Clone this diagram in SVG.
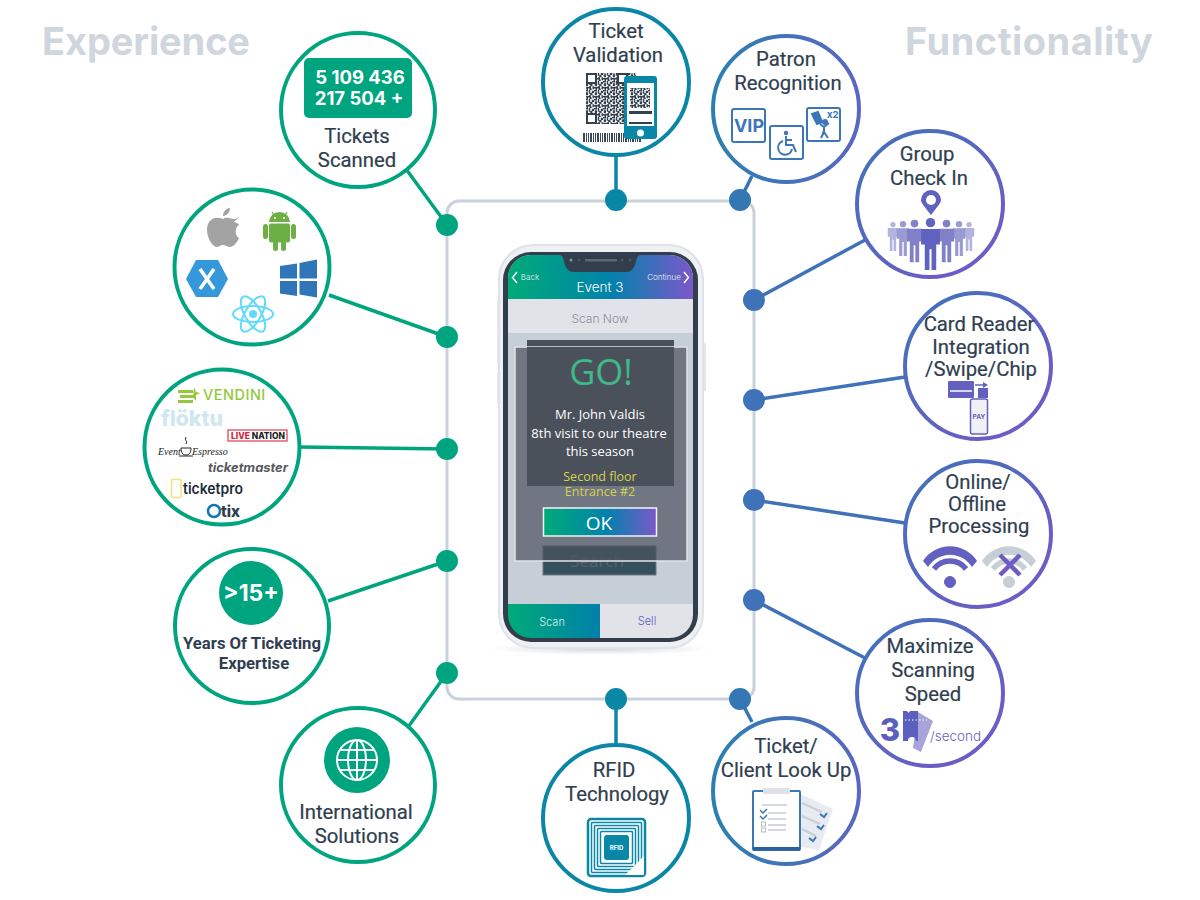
<svg xmlns="http://www.w3.org/2000/svg" width="1200" height="900" viewBox="0 0 1200 900">
<style>
.title{font:700 38px "Inter","Open Sans",sans-serif;fill:#cfd6de;text-anchor:middle}
.lb{font:400 20.300px Roboto,"Noto Sans",sans-serif;fill:#2f3e50;text-anchor:middle;stroke:#2f3e50;stroke-width:.2}
.cw{fill:#fff;stroke-width:4}
.g{stroke:#00a57f}.t{stroke:#0a87a6}.b{stroke:url(#gB)}.p{stroke:url(#gP)}
.con{fill:none;stroke-width:3.5}
.mn{font-family:"Open Sans","Noto Sans",sans-serif;text-anchor:middle}
.ph{font-family:Inter,"Open Sans",sans-serif;text-anchor:middle;font-weight:300}
.ib{fill:#fff;stroke:#3a76b8;stroke-width:2}
</style>
<defs>
<linearGradient id="gB" x1="0" x2="1" y1="0" y2="0"><stop offset="0" stop-color="#2b80b0"/><stop offset="1" stop-color="#5a66c2"/></linearGradient>
<linearGradient id="gP" x1="0" x2="1" y1="0" y2="1"><stop offset="0" stop-color="#3f73b8"/><stop offset="1" stop-color="#7757c8"/></linearGradient>
<linearGradient id="gH" x1="0" x2="1" y1="0" y2="0"><stop offset="0" stop-color="#00ab78"/><stop offset=".55" stop-color="#0082ab"/><stop offset="1" stop-color="#7b58c9"/></linearGradient>
<linearGradient id="gS" x1="0" x2="1" y1="0" y2="0"><stop offset="0" stop-color="#00ab78"/><stop offset="1" stop-color="#0080aa"/></linearGradient>
<radialGradient id="sh"><stop offset="0" stop-color="#d5d9dd"/><stop offset="1" stop-color="#fff"/></radialGradient>
<pattern id="qr" width="12" height="12" patternUnits="userSpaceOnUse" patternTransform="scale(.75)"><rect width="12" height="12" fill="#fff"/><path d="M0 0h4v2H0zM5 0h2v5H5zM9 1h3v3H9zM1 3h3v4H1zM7 4h3v3H7zM0 8h5v2H0zM5 7h3v3H5zM10 7h2v4h-2zM6 10h3v2H6zM2 10h2v2H2z" fill="#33414f"/></pattern>
<pattern id="bc" width="7" height="9" patternUnits="userSpaceOnUse"><path d="M0 0h1v9H0zM2 0h2v9H2zM5 0h1v9H5z" fill="#3a4754"/></pattern>
<symbol id="person" viewBox="0 0 20 50" overflow="visible"><circle cx="10" cy="4.5" r="4.5"/><path d="M1 10.500h18v15h-3.500V50H11V30H9v20H4.500V25.500H1z"/></symbol>
<g id="wifi"><circle r="5.500"/><path d="M-16-13a20 20 0 0 1 32 0" fill="none" stroke-width="5.500"/><path d="M-27-21a32 32 0 0 1 54 0l-5 6a26 26 0 0 0-44 0z" stroke="none"/></g>
</defs>

<text class="title" x="146" y="55" textLength="208">Experience</text>
<text class="title" x="1029" y="55" textLength="248">Functionality</text>

<rect id="frame" x="447" y="201" width="307" height="498" rx="12" fill="none" stroke="#c9d2dc" stroke-width="3"/>

<g id="connectors" class="con">
<path class="g" d="M406 169 447 225M329 295 447 337M300 447 447 449M328 601 447 561M406 730 447 673"/>
<path class="t" d="M616 157V200M616 744V699"/>
<path stroke="#3577b2" d="M752 176 740 200M752 722 740 699"/>
<path stroke="#3f72b8" d="M865 240 754 300M905 377 754 400M905 523 754 500M865 658 754 600"/>
<g stroke="none">
<g fill="#00a57f"><circle cx="447" cy="225" r="11"/><circle cx="447" cy="337" r="11"/><circle cx="447" cy="449" r="11"/><circle cx="447" cy="561" r="11"/><circle cx="447" cy="673" r="11"/></g>
<g fill="#0a87a6"><circle cx="616" cy="200" r="11"/><circle cx="616" cy="699" r="11"/></g>
<g fill="#3577b2"><circle cx="740" cy="200" r="11"/><circle cx="740" cy="699" r="11"/></g>
<g fill="#3f72b8"><circle cx="754" cy="300" r="11"/><circle cx="754" cy="400" r="11"/><circle cx="754" cy="500" r="11"/><circle cx="754" cy="600" r="11"/></g>
</g>
</g>

<g id="phone">
<ellipse cx="600" cy="649" rx="112" ry="6" fill="url(#sh)"/>
<rect x="497" y="300" width="4" height="31" rx="1" fill="#e3e6ec"/><rect x="497" y="332" width="4" height="33" rx="1" fill="#e3e6ec"/><rect x="497" y="372" width="4" height="32" rx="1" fill="#e3e6ec"/><rect x="701" y="343" width="5" height="48" rx="1" fill="#e3e6ec"/>
<rect x="499" y="245" width="204" height="403" rx="34" fill="#eef0f4" stroke="#dfe2e8" stroke-width="2"/>
<rect x="503" y="252" width="195" height="390" rx="28" fill="#333e4c"/>
<clipPath id="scr"><rect x="508" y="255" width="185" height="383" rx="23"/></clipPath>
<g clip-path="url(#scr)">
<rect x="508" y="255" width="185" height="350" fill="#c6ced7"/>
<rect x="508" y="255" width="185" height="44" fill="url(#gH)"/>
<rect x="508" y="299" width="185" height="34" fill="#e1e3e9"/>
<rect x="508" y="604" width="92" height="34" fill="url(#gS)"/>
<rect x="600" y="604" width="93" height="34" fill="#e1e3e9"/>
</g>
<path d="M559 255h82c-3 0-4 2-5 6-1 6-4 11-10 11h-52c-6 0-9-5-10-11-1-4-2-6-5-6z" fill="#333e4c"/>
<circle cx="571" cy="260" r="1.500" fill="#8a93a0"/><circle cx="579" cy="260" r="1.500" fill="#4e5865"/><circle cx="622" cy="260" r="1.500" fill="#4e5865"/><circle cx="630" cy="260" r="1.500" fill="#4e5865"/>
<rect x="585" y="259" width="32" height="2.500" fill="#5e6875"/>
<path d="M517 272l-4.500 5.500 4.500 5.500M684 272l4.500 5.500-4.500 5.500" fill="none" stroke="#fff" stroke-width="1.500"/>
<text class="ph" x="530" y="280" font-size="8" fill="#e6f2ee">Back</text>
<text class="ph" x="664" y="280" font-size="8" fill="#f0eefb">Continue</text>
<text class="ph" x="600" y="292" font-size="13.500" fill="#fff">Event 3</text>
<text class="ph" x="600" y="323" font-size="12" fill="#8a8f97">Scan Now</text>
<rect x="527" y="340" width="147" height="146" fill="#4b515b"/>
<rect x="543" y="546" width="113" height="29" fill="#35505c" stroke="#6f7680"/>
<text class="mn" x="597" y="567" font-size="17" fill="#59626c">Search</text>
<rect x="515" y="347" width="172" height="214" fill="#4c535e" fill-opacity=".7" stroke="#e1e4e9" stroke-width="1.500"/>
<rect x="527" y="347" width="147" height="139" fill="#4b515b"/>
<text class="mn" x="601" y="385" font-size="36" fill="#3fb98a">GO!</text>
<g class="mn" font-size="13" fill="#fff"><text x="600" y="419">Mr. John Valdis</text><text x="599" y="438">8th visit to our theatre</text><text x="600" y="456">this season</text></g>
<g class="mn" font-size="12.500" fill="#d7d24e"><text x="600" y="481">Second floor</text><text x="600" y="496">Entrance #2</text></g>
<rect x="543.500" y="508" width="113" height="28" fill="url(#gH)" stroke="#f2f3f7" stroke-width="1.500"/>
<text class="mn" x="599" y="530" font-size="19" fill="#fff">OK</text>
<text class="ph" x="552" y="626" font-size="11" fill="#d8f0e8">Scan</text>
<text class="ph" x="647" y="625" font-size="11" fill="#5f5fc0">Sell</text>
</g>

<g id="tickets-scanned">
<circle class="cw g" cx="358" cy="110" r="77"/>
<rect x="304" y="58" width="108" height="60" rx="5" fill="#00a57f"/>
<g font-family="Inter,'Open Sans',sans-serif" font-weight="700" font-size="18.500" fill="#fff" text-anchor="middle"><text x="360" y="84">5 109 436</text><text x="359" y="105">217 504 +</text></g>
<text class="lb" x="357" y="143">Tickets</text><text class="lb" x="357" y="167">Scanned</text>
</g>

<g id="platforms">
<circle class="cw g" cx="252" cy="267" r="77.500"/>
<path d="M224 218c5-1 8 1 10 1 3 0 4-2 5-2-3 4-4 3-5 5 5 1 5 3 5 3-5 3-4 11 0 13-2 5-6 9-9 9-3 0-4-2-7-2s-4 2-6 2c-5 0-10-10-10-17 0-8 5-13 12-12 2 0 4 1 5 1z M223 216c0-4 3-8 7-8 0 4-3 8-7 8z" fill="#a3a3a3"/>
<g fill="#6cb045"><path d="M269 222a10.500 10 0 0 1 21 0z"/><rect x="269" y="223.500" width="21" height="19" rx="2"/><rect x="263" y="224" width="5" height="15" rx="2.500"/><rect x="291" y="224" width="5" height="15" rx="2.500"/><rect x="273" y="241" width="5" height="10" rx="2.500"/><rect x="281" y="241" width="5" height="10" rx="2.500"/><path d="M272 212l3 5M287 212l-3 5" stroke="#6cb045" stroke-width="1.200"/></g>
<circle cx="275" cy="218" r="1" fill="#fff"/><circle cx="284" cy="218" r="1" fill="#fff"/>
<path d="M186 279l10-19h22l10 19-10 18h-22z" fill="#3498db"/>
<path d="M200 269l14 20M214 269l-14 20" stroke="#fff" stroke-width="3.500"/>
<path d="M280 266l17-2.500v15h-17zM299.500 263l17.500-3.500v19h-17.500zM280 281h17v15l-17-2.500zM299.500 281H317v16.500l-17.500-3z" fill="#2f75b8"/>
<g fill="none" stroke="#61dafb" stroke-width="2"><ellipse cx="253" cy="314" rx="20" ry="8"/><ellipse cx="253" cy="314" rx="20" ry="8" transform="rotate(60 253 314)"/><ellipse cx="253" cy="314" rx="20" ry="8" transform="rotate(120 253 314)"/></g><circle cx="253" cy="314" r="4" fill="#61dafb"/>
</g>

<g id="ticketing-partners">
<circle class="cw g" cx="222" cy="447" r="77.500"/>
<path d="M178 390h15v3h-15zM180 395h15v3h-15zM178 400h15v3h-15zM194 387l2 5 4 1-4 2 0 6-3-4z" fill="#94c83d"/>
<text x="203" y="400" font-family="Inter,sans-serif" font-weight="500" font-size="14.500" fill="#94c83d" letter-spacing=".5">VENDINI</text>
<text x="161" y="426" font-family="Inter,sans-serif" font-weight="800" font-size="22" fill="#cfe8ef" textLength="62" lengthAdjust="spacingAndGlyphs">flöktu</text>
<rect x="228" y="430" width="59" height="11" fill="#fff" stroke="#e03a50" stroke-width="1.200"/>
<text x="231" y="439" font-family="Inter,sans-serif" font-weight="800" font-size="8.500" fill="#222" textLength="54" lengthAdjust="spacingAndGlyphs"><tspan fill="#d0283e">LIVE</tspan> NATION</text>
<text y="455" font-family="Liberation Serif,serif" font-style="italic" font-size="10" fill="#222"><tspan x="158">Event</tspan> <tspan x="192">Espresso</tspan></text>
<path d="M181 448h10c0 5-2 7-5 7s-5-2-5-7zM186 437c-2 3 2 4 0 7M179 456h14" fill="none" stroke="#222"/>
<text x="208" y="472" font-family="Inter,sans-serif" font-style="italic" font-weight="700" font-size="12.500" fill="#565a5e" textLength="80" lengthAdjust="spacingAndGlyphs">ticketmaster</text>
<rect x="171.500" y="479.500" width="9.500" height="18" rx="1" fill="#fff" stroke="#f3e27a" stroke-width="1.500"/>
<text x="183" y="494" font-family="Inter,sans-serif" font-size="15" fill="#1c2b3a" font-weight="600" textLength="60" lengthAdjust="spacingAndGlyphs">ticketpro</text>
<circle cx="214" cy="511" r="6" fill="none" stroke="#1176b5" stroke-width="2.500"/>
<text x="221" y="517" font-family="Inter,sans-serif" font-weight="800" font-size="15" fill="#2f3d4a" textLength="19" lengthAdjust="spacingAndGlyphs">tix</text>
</g>

<g id="years">
<circle class="cw g" cx="252" cy="626" r="77"/>
<circle cx="251" cy="593" r="32" fill="#00a57f"/>
<text x="251" y="601" font-family="Inter,sans-serif" font-weight="700" font-size="23" fill="#fff" text-anchor="middle">&gt;15+</text>
<g font-family="Roboto,sans-serif" font-weight="700" font-size="16.700" fill="#2f3e50" text-anchor="middle"><text x="252" y="649">Years Of Ticketing</text><text x="254" y="669">Expertise</text></g>
</g>

<g id="international">
<circle class="cw g" cx="358" cy="785" r="77"/>
<circle cx="357" cy="760" r="33" fill="#00a57f"/>
<g fill="none" stroke="#fff" stroke-width="2"><circle cx="357" cy="760" r="20"/><ellipse cx="357" cy="760" rx="9" ry="20"/><path d="M357 740v40M337 760h40M340 750h34M340 770h34"/></g>
<text class="lb" x="356" y="819">International</text><text class="lb" x="357" y="843">Solutions</text>
</g>

<g id="ticket-validation">
<circle class="cw t" cx="616" cy="82" r="73"/>
<text class="lb" x="616" y="38">Ticket</text><text class="lb" x="618" y="62">Validation</text>
<rect x="586" y="73" width="50" height="51" fill="url(#qr)"/>
<g fill="#fff" stroke="#33414f" stroke-width="2"><rect x="587" y="74" width="9" height="9"/><rect x="587" y="114" width="9" height="9"/><rect x="618" y="74" width="9" height="9"/></g>
<rect x="582" y="133" width="60" height="9" fill="url(#bc)"/>
<rect x="624" y="76" width="33" height="63" rx="3" fill="#0a87a6"/>
<rect x="627" y="83" width="27" height="43" fill="#fff"/>
<rect x="630" y="88" width="20" height="20" fill="url(#qr)"/>
<path d="M629 111h23v3h-23zM629 122h23v2h-23z" fill="#33414f"/>
<circle cx="640.500" cy="133" r="3.500" fill="#fff"/>
</g>

<g id="patron-recognition">
<circle class="cw b" cx="786" cy="109" r="73"/>
<text class="lb" x="786" y="66">Patron</text><text class="lb" x="788" y="90">Recognition</text>
<rect class="ib" x="732" y="109" width="33" height="33" rx="2"/>
<text x="749" y="132" font-family="Inter,sans-serif" font-weight="700" font-size="18" fill="#3a76b8" text-anchor="middle">VIP</text>
<rect class="ib" x="770" y="126" width="33" height="33" rx="2"/>
<circle cx="786" cy="133" r="2.200" fill="#3a76b8"/>
<path d="M786 136v9h7l3 7M786 140h6M783 141a7 7 0 1 0 9 8" fill="none" stroke="#3a76b8" stroke-width="2"/>
<rect class="ib" x="807" y="108" width="33" height="33" rx="2"/>
<circle cx="825" cy="122" r="3" fill="#3a76b8"/>
<path d="M812 114l6-2 4 10-5 2zM824 126v6l-3 6M824 132l4 6M824 127l5-4M824 127l-4-3" fill="#3a76b8" stroke="#3a76b8" stroke-width="2"/>
<text x="827" y="118" font-family="Inter,sans-serif" font-weight="700" font-size="9.500" fill="#3a76b8">x2</text>
</g>

<g id="group-check-in">
<circle class="cw p" cx="930" cy="204" r="73"/>
<text class="lb" x="927" y="161">Group</text><text class="lb" x="929" y="185">Check In</text>
<path d="M931 215c-6-8-10-12-10-15a10 10 0 0 1 20 0c0 3-4 7-10 15z" fill="#5f62be"/><circle cx="931" cy="200" r="5" fill="#fff"/>
<g fill="#b2b3de"><use href="#person" x="887" y="222" width="12" height="29"/><use href="#person" x="963" y="222" width="12" height="29"/></g>
<g fill="#9a9bd3"><use href="#person" x="896" y="220" width="14" height="37"/><use href="#person" x="952" y="220" width="14" height="37"/></g>
<g fill="#8081c9"><use href="#person" x="906" y="219" width="17" height="44"/><use href="#person" x="938" y="219" width="17" height="44"/></g>
<g fill="#5f62be"><use href="#person" x="920" y="218" width="21" height="52"/></g>
</g>

<g id="card-reader">
<circle class="cw p" cx="978" cy="366" r="73"/>
<text class="lb" x="979" y="331">Card Reader</text><text class="lb" x="981" y="354">Integration</text><text class="lb" x="981" y="376">/Swipe/Chip</text>
<rect x="948" y="381" width="26" height="17" rx="1" fill="#6360bf"/><path d="M950 391h22" stroke="#fff" stroke-width="1.500"/>
<path d="M975 385h9" stroke="#6360bf" stroke-width="1.500"/><path d="M983 382l5 3-5 3z" fill="#6360bf"/>
<rect x="978" y="388" width="10" height="10" fill="#6360bf"/>
<rect x="970.500" y="399" width="17" height="35" rx="2" fill="#f1f1f5" stroke="#6360bf" stroke-width="1.500"/>
<text x="979" y="419" font-family="Inter,sans-serif" font-weight="700" font-size="6.500" fill="#6360bf" text-anchor="middle">PAY</text>
</g>

<g id="online-offline">
<circle class="cw p" cx="978" cy="534" r="73"/>
<text class="lb" x="978" y="489">Online/</text><text class="lb" x="977" y="511">Offline</text><text class="lb" x="979" y="533">Processing</text>
<use href="#wifi" x="950" y="582" fill="#6360bf" stroke="#6360bf"/>
<use href="#wifi" x="1009" y="582" fill="#c6ced6" stroke="#c6ced6"/>
<path d="M1000 555l20 20M1020 555l-20 20" stroke="#6f5cc2" stroke-width="4.500"/>
</g>

<g id="maximize-speed">
<circle class="cw p" cx="930" cy="693" r="73"/>
<text class="lb" x="930" y="653">Maximize</text><text class="lb" x="933" y="677">Scanning</text><text class="lb" x="933" y="701">Speed</text>
<text x="890" y="741" font-family="Inter,sans-serif" font-weight="800" font-size="31" fill="#5a60bc" text-anchor="middle">3</text>
<path d="M918 712l15 9-12 31-8-4z" fill="#a8a4da"/>
<path d="M903 711h4l1.500 2 1.500-2h8v30h-2a1.500 1.500 0 0 0-8 0h-5z" fill="#5a60bc"/>
<path d="M905 720h22" stroke="#fff" stroke-width="1" stroke-dasharray="1.500 2"/>
<text x="930" y="741" font-family="Inter,sans-serif" font-weight="300" font-size="13.500" fill="#6f5cc2">/second</text>
</g>

<g id="client-look-up">
<circle class="cw b" cx="786" cy="791" r="73"/>
<text class="lb" x="786" y="753">Ticket/</text><text class="lb" x="786" y="777">Client Look Up</text>
<path d="M801 794l32 15-14 41-18-3z" fill="#e9ebf2"/>
<path d="M802 803l20 9M802 816l18 8M802 829l14 7" stroke="#c8cdd6" stroke-width="2"/>
<path d="M820 814l4 3 3-4M817 826l4 3 3-4M809 838l4 3 3-4" fill="none" stroke="#3a76b8" stroke-width="2"/>
<rect x="753" y="791" width="47" height="59" rx="1" fill="#fff" stroke="#3a76b8" stroke-width="2"/>
<rect x="753" y="847" width="47" height="3.500" fill="#2c5f9f"/>
<rect x="763" y="788" width="27" height="6" rx="1" fill="#dfe1e7"/>
<path d="M762 805h25M768 813h18M768 819h18M768 825h18M768 830h18" stroke="#c5cad3" stroke-width="1.500"/>
<path d="M760 810l3 3 4-4M760 816l3 3 4-4" fill="none" stroke="#3a76b8" stroke-width="1.500"/>
<rect x="761.500" y="822" width="4" height="4" fill="none" stroke="#b9bec8"/><rect x="761.500" y="828" width="4" height="4" fill="none" stroke="#b9bec8"/>
</g>

<g id="rfid">
<circle class="cw t" cx="616" cy="818" r="73"/>
<text class="lb" x="614" y="777">RFID</text><text class="lb" x="617" y="801">Technology</text>
<rect x="588" y="819" width="57" height="57" rx="3" fill="#fff" stroke="#0a87a6" stroke-width="2.500"/>
<g fill="none" stroke="#0a87a6" stroke-width="1.500"><rect x="591.500" y="822.500" width="50" height="50" rx="1"/><rect x="594.500" y="825.500" width="44" height="44" rx="1"/><rect x="597.500" y="828.500" width="38" height="38" rx="1"/><rect x="600.500" y="831.500" width="32" height="32" rx="1"/></g>
<rect x="604" y="835" width="25" height="25" rx="3" fill="#0a87a6"/>
<text x="616.500" y="850" font-family="Inter,sans-serif" font-weight="700" font-size="6" fill="#fff" text-anchor="middle">RFID</text>
<path d="M625 875l19-19v19z" fill="#fff"/>
</g>
</svg>
